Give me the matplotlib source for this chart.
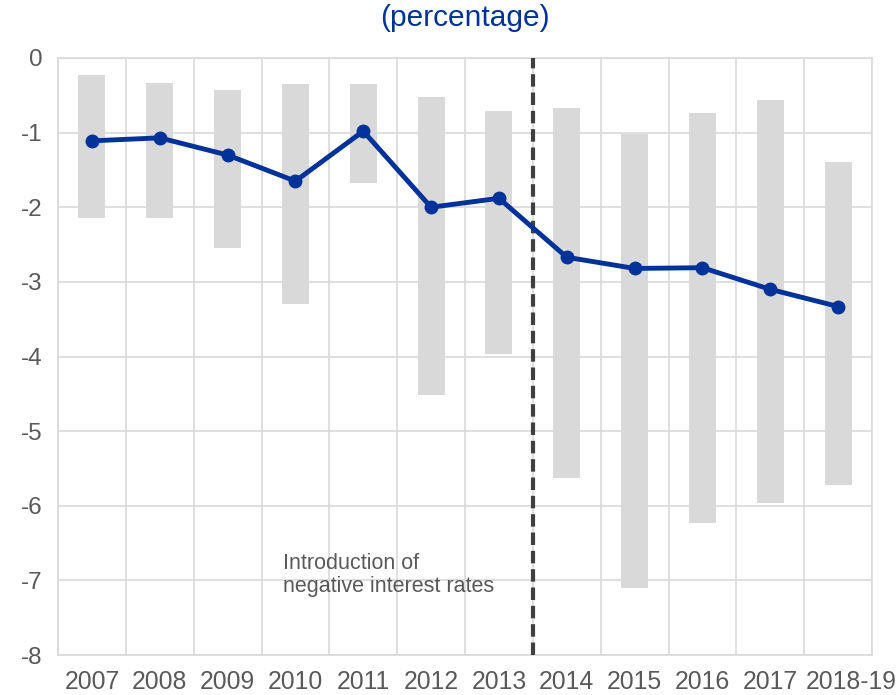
import matplotlib
matplotlib.use("Agg")
import matplotlib.pyplot as plt
import matplotlib.transforms as mtransforms
import numpy as np

categories = ["2007", "2008", "2009", "2010", "2011", "2012", "2013",
              "2014", "2015", "2016", "2017", "2018-19"]
range_top = [-0.23, -0.33, -0.43, -0.35, -0.35, -0.52, -0.71,
             -0.67, -1.02, -0.74, -0.56, -1.40]
range_bottom = [-2.15, -2.15, -2.54, -3.30, -1.67, -4.52, -3.96,
                -5.63, -7.10, -6.23, -5.96, -5.72]
median = [-1.11, -1.07, -1.30, -1.65, -0.98, -2.00, -1.88,
          -2.67, -2.82, -2.81, -3.10, -3.33]
yticks = [0, -1, -2, -3, -4, -5, -6, -7, -8]

plt.rcParams['font.family'] = ['Liberation Sans', 'DejaVu Sans']
grey_text = "#595959"
blue = "#003299"

fig = plt.figure(figsize=(8.96, 6.95), dpi=100)
ax = fig.add_axes([58/896, 40/695, (872-58)/896, (655-58)/695])

x = np.arange(len(categories))
top = np.array(range_top)
bot = np.array(range_bottom)
ax.bar(x, top - bot, bottom=bot, width=0.4, color="#d9d9d9", zorder=2)
ax.plot(x, median, color=blue, lw=3.5, marker="o", ms=9, zorder=4)

ax.axvline(6.5, color="#404040", lw=3, ls=(0, (3, 1.4)), zorder=3)
ax.text(2.82, -6.93, "Introduction of\nnegative interest rates", color=grey_text,
        fontsize=15.5, ha="left", va="center", linespacing=1.1, zorder=5)

ax.set_xlim(-0.5, len(categories) - 0.5)
ax.set_ylim(-8, 0)
ax.set_yticks(yticks)
ax.set_yticklabels([str(t) for t in yticks])
ax.set_xticks(x)
ax.set_xticklabels(categories)
ax.set_xticks(np.arange(-0.5, len(categories)), minor=True)
ax.grid(False)
ax.grid(True, which="minor", axis="x", color="#d9d9d9", lw=1.2, zorder=0)
ax.grid(True, which="major", axis="y", color="#d9d9d9", lw=1.2, zorder=0)
for s in ax.spines.values():
    s.set_color("#d9d9d9")
    s.set_linewidth(1.2)
ax.tick_params(which="both", length=0)
ax.tick_params(axis="y", labelsize=17.5, labelcolor=grey_text, pad=11)
ax.tick_params(axis="x", labelsize=17.8, labelcolor=grey_text, pad=11)

# shift the last (wide) label to the right as in the reference
last = ax.get_xticklabels()[-1]
last.set_transform(last.get_transform() +
                   mtransforms.ScaledTranslation(13/100, 0, fig.dpi_scale_trans))

fig.text(465/896, 1 - 18/695, "(percentage)", color=blue, fontsize=21.5,
         ha="center", va="center")

fig.savefig("out.png", dpi=100)
